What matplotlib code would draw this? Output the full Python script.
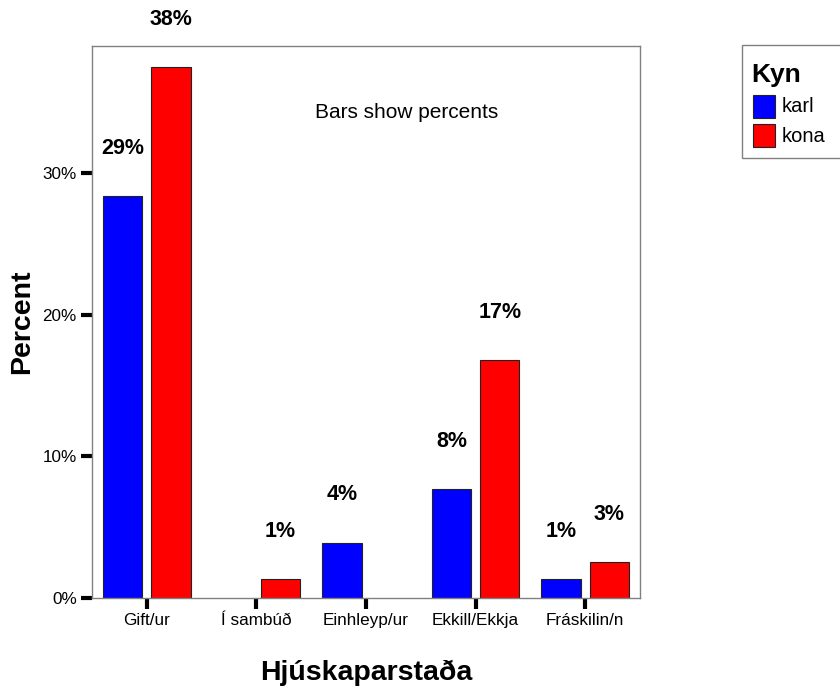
import matplotlib
matplotlib.use("Agg")
import matplotlib.pyplot as plt
from matplotlib.patches import Rectangle
import numpy as np

plt.rcParams['font.family'] = ['Liberation Sans', 'DejaVu Sans']

categories = ["Gift/ur", "Í sambúð", "Einhleyp/ur", "Ekkill/Ekkja", "Fráskilin/n"]
karl = [28.4, 0.0, 3.9, 7.7, 1.34]
kona = [37.5, 1.34, 0.0, 16.8, 2.54]
karl_labels = ["29%", "", "4%", "8%", "1%"]
kona_labels = ["38%", "1%", "", "17%", "3%"]
yticks = [0, 10, 20, 30]
ytick_labels = ["0%", "10%", "20%", "30%"]
series_names = ["karl", "kona"]
series_colors = ["#0000ff", "#ff0000"]

W, H = 840, 690
fig = plt.figure(figsize=(W/100, H/100), dpi=100)
ax = fig.add_axes([92/W, 92/H, 548/W, 552/H])

x = np.arange(len(categories))
w = 0.36
off = 0.22
for vals, labs, sign, col in [(karl, karl_labels, -1, series_colors[0]), (kona, kona_labels, 1, series_colors[1])]:
    lws = [0.8 if v > 0 else 0 for v in vals]
    ax.bar(x + sign*off, vals, w, color=col, edgecolor="#222222", linewidth=lws)
    for xi, v, lab in zip(x + sign*off, vals, labs):
        if lab:
            ax.annotate(lab, (xi, v), xytext=(0, 48), textcoords="offset pixels",
                        ha="center", va="center", fontsize=15.5, fontweight="bold",
                        annotation_clip=False)

ax.set_xlim(-0.5, len(categories) - 0.5)
ax.set_ylim(0, 39)
ax.set_xticks(x)
ax.set_xticklabels(categories, fontsize=12.3)
ax.set_yticks(yticks)
ax.set_yticklabels(ytick_labels, fontsize=12.3)
ax.tick_params(axis="both", direction="out", length=8, width=3, color="black", pad=3)
for s in ax.spines.values():
    s.set_color("#808080")
    s.set_linewidth(1.0)

ax.set_xlabel("Hjúskaparstaða", fontsize=20.5, fontweight="bold", labelpad=23)
ax.set_ylabel("Percent", fontsize=20.5, fontweight="bold", labelpad=5)

fig.text(407/W, 1 - 113/H, "Bars show percents", ha="center", va="center", fontsize=15)

# Legend (figure pixel layout)
fig.patches.append(Rectangle((742/W, 1 - 158/H), 110/W, 113/H, transform=fig.transFigure,
                             facecolor="white", edgecolor="#808080", linewidth=1.0))
fig.text(751/W, 1 - 75/H, "Kyn", ha="left", va="center", fontsize=19, fontweight="bold")
for i, (name, col) in enumerate(zip(series_names, series_colors)):
    ytop = 95 + i*29
    fig.patches.append(Rectangle((753/W, 1 - (ytop + 23)/H), 22/W, 23/H, transform=fig.transFigure,
                                 facecolor=col, edgecolor="#222222", linewidth=0.8))
    fig.text(782/W, 1 - (ytop + 12)/H, name, ha="left", va="center", fontsize=14.5)

fig.savefig("out.png", dpi=100)
